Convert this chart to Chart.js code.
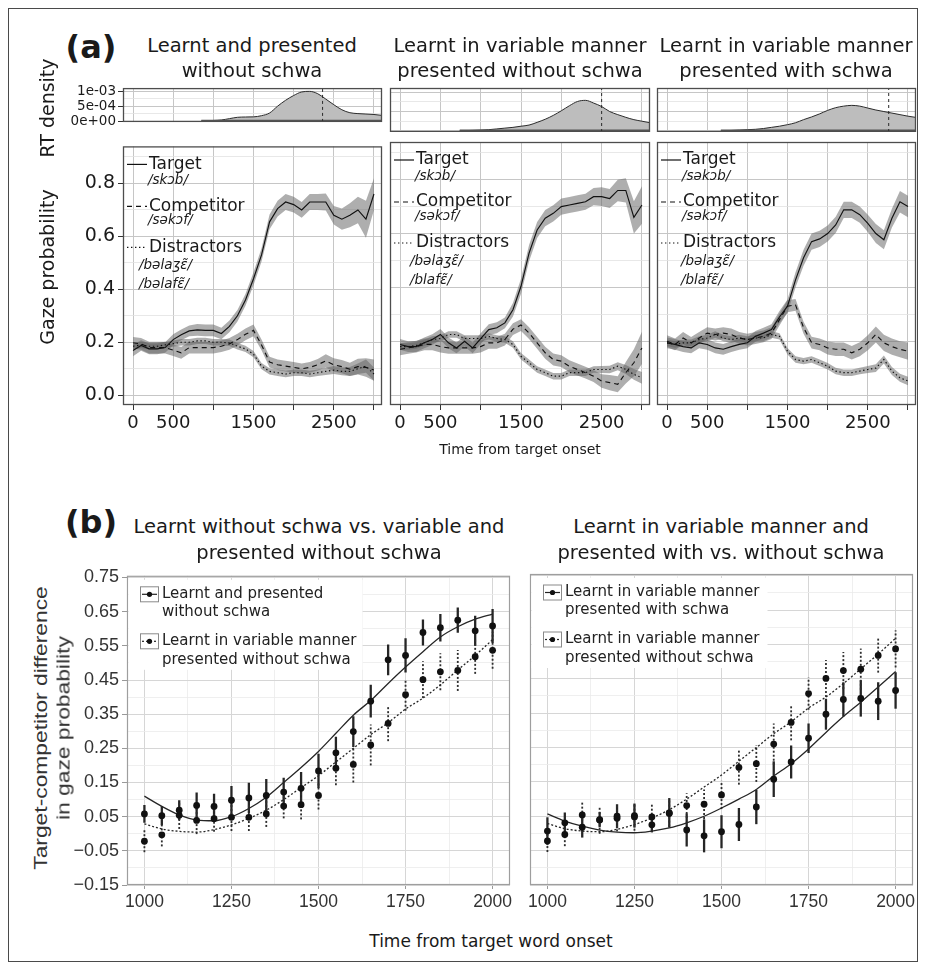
<!DOCTYPE html>
<html><head><meta charset="utf-8">
<script src="https://cdn.jsdelivr.net/npm/chart.js@4.4.1/dist/chart.umd.min.js"></script>
<style>
html,body{margin:0;padding:0;background:#fff;}
#page{position:relative;width:926px;height:971px;overflow:hidden;background:#fff;}
#frame{position:absolute;left:8px;top:8px;width:910px;height:954px;border:1.5px solid #4a4a4a;box-sizing:border-box;}
canvas{position:absolute;}
.t{position:absolute;white-space:nowrap;color:#1a1a1a;font-family:"DejaVu Sans",sans-serif;line-height:1;transform:translate(-50%,-50%);}
.rot{transform:translate(-50%,-50%) rotate(-90deg);}
</style></head><body><div id="page"><div id="frame"></div></div>
<script>
// ---------------- DATA: panel (a) gaze probabilities ----------------
const aTime = [0,100,200,300,400,500,600,700,800,900,1000,1100,1200,1300,1400,1500,1600,1700,1800,1900,2000,2100,2200,2300,2400,2500,2600,2700,2800,2900,3000];

const target1 = [0.169,0.188,0.175,0.175,0.18,0.21,0.228,0.243,0.247,0.245,0.245,0.233,0.26,0.30,0.36,0.44,0.53,0.655,0.705,0.73,0.72,0.70,0.73,0.73,0.73,0.68,0.665,0.68,0.70,0.665,0.76];
const targetSe1 = [0.022,0.02,0.02,0.02,0.02,0.02,0.02,0.02,0.022,0.022,0.022,0.022,0.022,0.022,0.022,0.025,0.025,0.028,0.03,0.03,0.03,0.03,0.03,0.03,0.032,0.035,0.04,0.045,0.05,0.07,0.06];
const comp1 = [0.198,0.194,0.18,0.18,0.18,0.17,0.16,0.18,0.18,0.18,0.18,0.185,0.194,0.21,0.23,0.245,0.19,0.125,0.115,0.11,0.105,0.10,0.105,0.115,0.13,0.115,0.108,0.098,0.108,0.105,0.095];
const compSe1 = [0.022,0.022,0.022,0.022,0.022,0.022,0.022,0.022,0.022,0.022,0.022,0.022,0.022,0.022,0.022,0.022,0.02,0.02,0.02,0.02,0.02,0.02,0.02,0.022,0.025,0.025,0.025,0.025,0.03,0.035,0.04];
const dist1 = [0.185,0.19,0.185,0.185,0.19,0.195,0.2,0.2,0.205,0.205,0.2,0.2,0.198,0.185,0.175,0.155,0.11,0.09,0.085,0.08,0.085,0.085,0.08,0.085,0.09,0.095,0.09,0.09,0.1,0.11,0.08];
const distSe1 = [0.012,0.012,0.012,0.012,0.012,0.012,0.012,0.012,0.012,0.012,0.012,0.012,0.012,0.012,0.012,0.012,0.012,0.012,0.012,0.012,0.012,0.012,0.012,0.012,0.014,0.015,0.015,0.017,0.02,0.025,0.025];

const target2 = [0.188,0.18,0.18,0.194,0.206,0.225,0.194,0.175,0.2,0.175,0.21,0.243,0.25,0.268,0.317,0.404,0.527,0.613,0.657,0.675,0.70,0.706,0.712,0.718,0.737,0.737,0.73,0.76,0.76,0.66,0.706];
const targetSe2 = [0.02,0.02,0.02,0.02,0.02,0.02,0.02,0.02,0.02,0.02,0.02,0.02,0.02,0.02,0.025,0.028,0.03,0.03,0.03,0.03,0.03,0.03,0.03,0.03,0.032,0.035,0.035,0.04,0.045,0.06,0.07];
const comp2 = [0.17,0.175,0.18,0.188,0.188,0.18,0.175,0.175,0.175,0.175,0.18,0.194,0.194,0.206,0.245,0.26,0.23,0.194,0.157,0.132,0.126,0.107,0.095,0.083,0.07,0.052,0.046,0.04,0.083,0.12,0.175];
const compSe2 = [0.022,0.022,0.022,0.022,0.022,0.022,0.022,0.022,0.022,0.022,0.022,0.022,0.022,0.022,0.022,0.022,0.022,0.022,0.022,0.022,0.022,0.022,0.022,0.022,0.022,0.025,0.028,0.03,0.04,0.05,0.06];
const dist2 = [0.18,0.18,0.184,0.194,0.206,0.21,0.225,0.225,0.21,0.21,0.21,0.218,0.21,0.206,0.188,0.144,0.12,0.095,0.083,0.07,0.07,0.083,0.083,0.083,0.095,0.095,0.095,0.107,0.095,0.077,0.064];
const distSe2 = [0.012,0.012,0.012,0.012,0.012,0.012,0.012,0.012,0.012,0.012,0.012,0.012,0.012,0.012,0.012,0.012,0.012,0.012,0.012,0.012,0.012,0.012,0.012,0.012,0.012,0.013,0.014,0.015,0.017,0.02,0.022];

const target3 = [0.194,0.188,0.18,0.175,0.194,0.188,0.175,0.17,0.18,0.188,0.194,0.218,0.23,0.243,0.29,0.33,0.428,0.51,0.57,0.58,0.60,0.632,0.688,0.688,0.67,0.638,0.60,0.577,0.657,0.718,0.70];
const targetSe3 = [0.02,0.02,0.02,0.02,0.02,0.02,0.02,0.02,0.02,0.02,0.02,0.02,0.02,0.02,0.022,0.025,0.028,0.03,0.03,0.03,0.03,0.03,0.03,0.03,0.03,0.032,0.035,0.035,0.035,0.04,0.04];
const comp3 = [0.2,0.188,0.212,0.194,0.212,0.23,0.225,0.23,0.225,0.212,0.206,0.212,0.218,0.23,0.28,0.33,0.335,0.25,0.195,0.188,0.175,0.17,0.17,0.157,0.17,0.194,0.225,0.194,0.18,0.17,0.163];
const compSe3 = [0.022,0.022,0.022,0.022,0.022,0.022,0.022,0.022,0.022,0.022,0.022,0.022,0.022,0.022,0.022,0.022,0.022,0.022,0.022,0.022,0.024,0.025,0.025,0.025,0.026,0.028,0.03,0.03,0.03,0.03,0.032];
const dist3 = [0.194,0.188,0.194,0.194,0.206,0.212,0.225,0.212,0.206,0.212,0.206,0.212,0.212,0.225,0.218,0.163,0.132,0.126,0.132,0.12,0.107,0.089,0.083,0.083,0.089,0.095,0.10,0.132,0.089,0.064,0.052];
const distSe3 = [0.012,0.012,0.012,0.012,0.012,0.012,0.012,0.012,0.012,0.012,0.012,0.012,0.012,0.012,0.012,0.012,0.012,0.012,0.012,0.012,0.012,0.012,0.012,0.012,0.012,0.013,0.014,0.015,0.015,0.015,0.016];

// RT densities (x in ms, y in density units) and median RT
const densX1 = [850,900,1000,1100,1200,1300,1400,1500,1600,1700,1800,1900,2000,2100,2200,2300,2400,2500,2600,2700,2800,2900,3000,3100];
const densY1 = [0,0.000005,0.000018,0.000035,0.00008,0.000125,0.000135,0.00014,0.00018,0.00027,0.0005,0.0007,0.00086,0.00098,0.001,0.00092,0.00074,0.00055,0.00038,0.00028,0.00025,0.000235,0.00022,0.00019];
const densX2 = [740,800,900,1000,1100,1200,1300,1400,1500,1600,1700,1800,1900,2000,2100,2200,2300,2400,2500,2600,2700,2800,2900,3000,3125];
const densY2 = [0,0.000005,0.000012,0.00002,0.00003,0.00005,0.00007,0.00009,0.00012,0.00015,0.00022,0.0003,0.0004,0.00052,0.00065,0.00076,0.00079,0.00072,0.00063,0.0005,0.00042,0.00035,0.00029,0.00025,0.0002];
const densX3 = [670,700,800,900,1000,1100,1200,1300,1400,1500,1600,1700,1800,1900,2000,2100,2200,2300,2400,2500,2600,2700,2800,2900,3000,3125];
const densY3 = [0,0.000003,0.00001,0.00002,0.00003,0.00004,0.00006,0.00009,0.00012,0.00016,0.00021,0.00029,0.00036,0.00044,0.00053,0.0006,0.00064,0.00066,0.00064,0.00059,0.00054,0.0005,0.00046,0.00042,0.00038,0.00034];
const rtMedian = [2360, 2500, 2760];

// Tick values / labels (a)
const aXTicks = [0,500,1000,1500,2000,2500,3000];
const aXLabels = ['0','500','','1500','','2500',''];
const gazeYTicks = [0,0.1,0.2,0.3,0.4,0.5,0.6,0.7,0.8,0.9];
const gazeYLabels = ['0.0','','0.2','','0.4','','0.6','','0.8',''];
const densYTicks = [0,0.00025,0.0005,0.00075,0.001];
const densYLabels = ['0e+00','','5e-04','','1e-03'];

// ---------------- DATA: panel (b) target-competitor differences ----------------
const bTime = [1000,1050,1100,1150,1200,1250,1300,1350,1400,1450,1500,1550,1600,1650,1700,1750,1800,1850,1900,1950,2000];
const noSchwa = [0.058,0.053,0.069,0.083,0.08,0.098,0.105,0.112,0.122,0.133,0.184,0.237,0.299,0.388,0.509,0.522,0.589,0.603,0.625,0.594,0.608];
const noSchwaErr = [0.026,0.028,0.029,0.038,0.037,0.042,0.044,0.048,0.042,0.048,0.05,0.047,0.045,0.048,0.045,0.05,0.038,0.04,0.037,0.044,0.05];
const varNoSchwa = [-0.022,-0.003,0.054,0.039,0.044,0.048,0.048,0.058,0.081,0.085,0.112,0.192,0.203,0.26,0.323,0.407,0.451,0.474,0.478,0.518,0.537];
const varNoSchwaErr = [0.032,0.034,0.04,0.04,0.038,0.04,0.04,0.038,0.036,0.043,0.041,0.05,0.053,0.06,0.052,0.047,0.054,0.054,0.06,0.05,0.054];
const varSchwa = [0.007,0.031,0.018,0.04,0.05,0.052,0.025,0.06,0.01,-0.007,0.005,0.026,0.077,0.158,0.208,0.277,0.347,0.39,0.393,0.385,0.416];
const varSchwaErr = [0.04,0.03,0.03,0.022,0.035,0.035,0.022,0.043,0.048,0.048,0.048,0.048,0.05,0.052,0.048,0.043,0.045,0.05,0.053,0.055,0.053];
const fitNoSchwa = [0.11,0.08,0.055,0.04,0.038,0.05,0.074,0.107,0.15,0.194,0.241,0.294,0.347,0.39,0.44,0.488,0.533,0.576,0.606,0.628,0.643];
const fitVarNoSchwa = [0.029,0.014,0.007,0.005,0.012,0.026,0.045,0.069,0.1,0.135,0.17,0.21,0.25,0.29,0.325,0.365,0.397,0.436,0.479,0.522,0.568];
const fitVarSchwa = [0.057,0.036,0.021,0.01,0.004,0.002,0.007,0.016,0.031,0.05,0.074,0.1,0.128,0.167,0.203,0.246,0.294,0.34,0.382,0.426,0.471];

const bXTicks = [1000,1125,1250,1375,1500,1625,1750,1875,2000];
const bXLabels = ['1000','','1250','','1500','','1750','','2000'];
const bYTicks = [-0.15,-0.1,-0.05,0,0.05,0.1,0.15,0.2,0.25,0.3,0.35,0.4,0.45,0.5,0.55,0.6,0.65,0.7,0.75];
const bYLabels = ['\u22120.15','','\u22120.05','','0.05','','0.15','','0.25','','0.35','','0.45','','0.55','','0.65','','0.75'];

// ---------------- helpers ----------------
const page = document.getElementById('page');
function addText(str, x, y, size, ex) {
  ex = ex || {};
  const d = document.createElement('div');
  d.className = 't' + (ex.rot ? ' rot' : '');
  d.textContent = str;
  d.style.left = x + 'px'; d.style.top = y + 'px';
  d.style.fontSize = size + 'px';
  if (ex.bold) d.style.fontWeight = 'bold';
  if (ex.family) d.style.fontFamily = ex.family;
  if (ex.color) d.style.color = ex.color;
  if (ex.stretch) d.style.transform = 'translate(-50%,-50%) rotate(-90deg) scaleX(' + ex.stretch + ')';
  page.appendChild(d);
}
function addCanvas(area, lay) {
  const c = document.createElement('canvas');
  const w = area.r - area.l + lay.yw + lay.pl + lay.pr;
  const h = area.b - area.t + lay.xh + lay.pt + lay.pb;
  c.width = w; c.height = h;
  c.style.left = (area.l - lay.yw - lay.pl) + 'px';
  c.style.top = (area.t - lay.pt) + 'px';
  c.style.width = w + 'px'; c.style.height = h + 'px';
  page.appendChild(c);
  return c;
}
function axis(cfg) {
  return {
    type: 'linear', min: cfg.min, max: cfg.max,
    afterBuildTicks: s => { s.ticks = cfg.values.map((v, i) => ({ value: v, major: cfg.labels[i] !== '' || cfg.allMajor })); },
    afterFit: s => { if (cfg.axis === 'x') s.height = cfg.size; else s.width = cfg.size; },
    ticks: { display: cfg.showLabels, autoSkip: false, maxRotation: 0, minRotation: 0, padding: cfg.pad || 0,
      color: cfg.labelColor || '#1a1a1a', font: cfg.font, callback: (v, i) => cfg.labels[i] },
    grid: { drawTicks: cfg.tickLen > 0, tickLength: cfg.tickLen || 0,
      color: c => (c.tick && c.tick.major) ? cfg.majorColor : cfg.minorColor,
      lineWidth: c => (c.tick && c.tick.major) ? cfg.majorWidth : cfg.minorWidth,
      tickColor: c => (c.tick && c.tick.major) ? cfg.tickColor : 'rgba(0,0,0,0)', tickWidth: 1 },
    border: { display: false }
  };
}
const panelBorder = { id: 'panelBorder', afterDatasetsDraw(chart, args, o) {
  if (!o || !o.color) return;
  const a = chart.chartArea, ctx = chart.ctx;
  ctx.save(); ctx.strokeStyle = o.color; ctx.lineWidth = o.width;
  ctx.strokeRect(a.left + 0.5, a.top + 0.5, a.right - a.left - 1, a.bottom - a.top - 1); ctx.restore();
}};
const errorBars = { id: 'errorBars', beforeDatasetsDraw(chart) {
  const ctx = chart.ctx, xs = chart.scales.x, ys = chart.scales.y, a = chart.chartArea;
  ctx.save();
  ctx.beginPath(); ctx.rect(a.left, a.top, a.right - a.left, a.bottom - a.top); ctx.clip();
  chart.data.datasets.forEach(ds => {
    if (!ds.errors) return;
    ctx.strokeStyle = ds.errColor; ctx.lineWidth = ds.errWidth; ctx.setLineDash(ds.errDash || []);
    ds.data.forEach((p, i) => {
      const x = xs.getPixelForValue(p.x);
      ctx.beginPath();
      ctx.moveTo(x, ys.getPixelForValue(p.y - ds.errors[i]));
      ctx.lineTo(x, ys.getPixelForValue(p.y + ds.errors[i]));
      ctx.stroke();
    });
  });
  ctx.restore();
}};
Chart.register(panelBorder, errorBars);

const pts = (xs, ys) => xs.map((x, i) => ({ x: x, y: ys[i] }));
const band = (xs, ys, se, sign) => xs.map((x, i) => ({ x: x, y: ys[i] + sign * se[i] }));
const baseOpts = { responsive: false, animation: false, events: [] };

// ---------------- (a) gaze panels ----------------
const GAZE_X = { min: -125, max: 3100 };
const gazePanels = [
  { area: { l: 123, t: 142, r: 382, b: 405 }, dens: { t: 88, b: 132 }, T: target1, Ts: targetSe1, C: comp1, Cs: compSe1, D: dist1, Ds: distSe1, tw: '/sk\u0254b/', dw: ['/b\u0259la\u0292\u025B\u0303/', '/b\u0259laf\u025B\u0303/'], doff: 16, dx: densX1, dy: densY1, med: rtMedian[0], first: true },
  { area: { l: 390, t: 142, r: 650, b: 405 }, dens: { t: 88, b: 132 }, T: target2, Ts: targetSe2, C: comp2, Cs: compSe2, D: dist2, Ds: distSe2, tw: '/sk\u0254b/', dw: ['/b\u0259la\u0292\u025B\u0303/', '/blaf\u025B\u0303/'], doff: 20, dx: densX2, dy: densY2, med: rtMedian[1], first: false },
  { area: { l: 657, t: 142, r: 916, b: 405 }, dens: { t: 88, b: 132 }, T: target3, Ts: targetSe3, C: comp3, Cs: compSe3, D: dist3, Ds: distSe3, tw: '/s\u0259k\u0254b/', dw: ['/b\u0259la\u0292\u025B\u0303/', '/blaf\u025B\u0303/'], doff: 24, dx: densX3, dy: densY3, med: rtMedian[2], first: false }
];
const RIBBON = 'rgba(100,100,100,0.52)';
const LINE = '#111';
const DASH_C = [5, 4], DASH_D = [1.4, 2.6];

gazePanels.forEach(p => {
  // density panel
  const dArea = { l: p.area.l, r: p.area.r, t: p.dens.t, b: p.dens.b };
  const dLay = { yw: p.first ? 62 : 0, xh: 0, pl: 10, pr: 10, pt: 10, pb: 0 };
  const dmin = -0.00003, dmax = 0.00111;
  new Chart(addCanvas(dArea, dLay), {
    type: 'line',
    data: { datasets: [
      { data: [{ x: p.med, y: dmin }, { x: p.med, y: dmax }], borderColor: '#2a2a2a', borderWidth: 1, borderDash: [3, 3], pointRadius: 0, fill: false, order: 0 },
      { data: [{ x: p.dx[0], y: 0 }, { x: p.dx[p.dx.length - 1], y: 0 }], borderColor: '#555', borderWidth: 2.5, pointRadius: 0, fill: false, order: 1 },
      { data: pts(p.dx, p.dy), borderColor: '#2b2b2b', borderWidth: 1, backgroundColor: '#bdbdbd', fill: 'origin', pointRadius: 0, cubicInterpolationMode: 'monotone', order: 2 }
    ] },
    options: Object.assign({}, baseOpts, {
      layout: { padding: { left: dLay.pl, right: dLay.pr, top: dLay.pt, bottom: dLay.pb } },
      plugins: { legend: { display: false }, tooltip: { enabled: false }, panelBorder: { color: '#4d4d4d', width: 1.3 } },
      scales: {
        x: axis({ axis: 'x', min: GAZE_X.min, max: GAZE_X.max, values: aXTicks, labels: aXTicks.map(() => ''), allMajor: true, size: 0, showLabels: false, tickLen: 0, majorColor: '#c6c6c6', minorColor: '#c6c6c6', majorWidth: 1, minorWidth: 1, tickColor: '#333' }),
        y: axis({ axis: 'y', min: dmin, max: dmax, values: densYTicks, labels: densYLabels, size: dLay.yw, showLabels: p.first, tickLen: p.first ? 5 : 0, pad: 2, font: { family: 'DejaVu Sans', size: 13.5 }, majorColor: '#c6c6c6', minorColor: '#e2e2e2', majorWidth: 1, minorWidth: 0.8, tickColor: '#333' })
      }
    })
  });

  // gaze panel
  const gLay = { yw: p.first ? 50 : 0, xh: 30, pl: 10, pr: 12, pt: 10, pb: 0 };
  const legend = { id: 'gazeLegend', afterDatasetsDraw(chart) {
    const ctx = chart.ctx, a = chart.chartArea, L = a.left, T = a.top;
    ctx.save();
    ctx.fillStyle = '#1a1a1a'; ctx.strokeStyle = LINE; ctx.lineWidth = 1.2;
    ctx.textBaseline = 'middle'; ctx.textAlign = 'left';
    const sample = (y, dash) => { ctx.setLineDash(dash); ctx.beginPath(); ctx.moveTo(L + 4, y); ctx.lineTo(L + 24, y); ctx.stroke(); };
    sample(T + 18, []); sample(T + 60, DASH_C); sample(T + 101, DASH_D);
    ctx.setLineDash([]);
    ctx.font = '17px "DejaVu Sans"';
    ctx.fillText('Target', L + 26, T + 18);
    ctx.fillText('Competitor', L + 26, T + 60);
    ctx.fillText('Distractors', L + 26, T + 101);
    ctx.font = 'italic 13.5px "DejaVu Sans"';
    ctx.fillText(p.tw, L + 25, T + 34);
    ctx.fillText('/s\u0259k\u0254f/', L + 25, T + 74);
    ctx.fillText(p.dw[0], L + p.doff, T + 119);
    ctx.fillText(p.dw[1], L + p.doff, T + 138);
    ctx.restore();
  }};
  const series = [[p.T, p.Ts, []], [p.C, p.Cs, DASH_C], [p.D, p.Ds, DASH_D]];
  const datasets = [];
  series.forEach(s => {
    datasets.push({ data: pts(aTime, s[0]), borderColor: LINE, borderWidth: 1.15, borderDash: s[2], pointRadius: 0, fill: false, tension: 0, order: 0 });
  });
  series.forEach(s => {
    datasets.push({ data: band(aTime, s[0], s[1], 1), borderWidth: 0, borderColor: 'rgba(0,0,0,0)', pointRadius: 0, fill: false, order: 1 });
    datasets.push({ data: band(aTime, s[0], s[1], -1), borderWidth: 0, borderColor: 'rgba(0,0,0,0)', backgroundColor: RIBBON, pointRadius: 0, fill: '-1', order: 1 });
  });
  new Chart(addCanvas(p.area, gLay), {
    type: 'line',
    data: { datasets: datasets },
    options: Object.assign({}, baseOpts, {
      layout: { padding: { left: gLay.pl, right: gLay.pr, top: gLay.pt, bottom: gLay.pb } },
      plugins: { legend: { display: false }, tooltip: { enabled: false }, panelBorder: { color: '#4d4d4d', width: 1.3 } },
      scales: {
        x: axis({ axis: 'x', min: GAZE_X.min, max: GAZE_X.max, values: aXTicks, labels: aXLabels, allMajor: true, size: gLay.xh, showLabels: true, tickLen: 5, pad: 3, font: { family: 'DejaVu Sans', size: 18 }, majorColor: '#c6c6c6', minorColor: '#c6c6c6', majorWidth: 1, minorWidth: 1, tickColor: '#333' }),
        y: axis({ axis: 'y', min: -0.037, max: 0.94, values: gazeYTicks, labels: gazeYLabels, size: gLay.yw, showLabels: p.first, tickLen: p.first ? 5 : 0, pad: 3, font: { family: 'DejaVu Sans', size: 19 }, majorColor: '#c6c6c6', minorColor: '#e2e2e2', majorWidth: 1, minorWidth: 0.8, tickColor: '#333' })
      }
    }),
    plugins: [legend]
  });
});

// ---------------- (b) difference panels ----------------
const bPanels = [
  { area: { l: 127, t: 574, r: 510, b: 885 }, first: true,
    A: varNoSchwa, Ae: varNoSchwaErr, S: noSchwa, Se: noSchwaErr, fitS: fitNoSchwa, fitA: fitVarNoSchwa,
    leg: [['Learnt and presented', 'without schwa'], ['Learnt in variable manner', 'presented without schwa']], lw: 234 },
  { area: { l: 530, t: 574, r: 913, b: 885 }, first: false,
    A: varNoSchwa, Ae: varNoSchwaErr, S: varSchwa, Se: varSchwaErr, fitS: fitVarSchwa, fitA: fitVarNoSchwa,
    leg: [['Learnt in variable manner', 'presented with schwa'], ['Learnt in variable manner', 'presented without schwa']], lw: 236 }
];
bPanels.forEach(p => {
  const lay = { yw: p.first ? 60 : 0, xh: 28, pl: p.first ? 0 : 30, pr: 12, pt: 12, pb: 0 };
  const legend = { id: 'bLegend', afterDatasetsDraw(chart) {
    const ctx = chart.ctx, a = chart.chartArea, L = a.left, T = a.top;
    ctx.save();
    ctx.fillStyle = '#fff'; ctx.fillRect(L + 1.5, T + 4, p.lw, 90);
    const key = (cy, dash) => {
      ctx.fillStyle = '#fff'; ctx.strokeStyle = '#8a8a8a'; ctx.lineWidth = 1; ctx.setLineDash([]);
      ctx.strokeRect(L + 13.5, cy - 7.5, 18, 15);
      ctx.strokeStyle = '#222'; ctx.lineWidth = 1.2; ctx.setLineDash(dash);
      ctx.beginPath(); ctx.moveTo(L + 15, cy); ctx.lineTo(L + 30, cy); ctx.stroke();
      ctx.setLineDash([]); ctx.fillStyle = '#111';
      ctx.beginPath(); ctx.arc(L + 22.5, cy, 2.6, 0, Math.PI * 2); ctx.fill();
    };
    key(T + 18.5, []); key(T + 65.5, [2, 2]);
    ctx.fillStyle = '#222'; ctx.font = '15px "DejaVu Sans"'; ctx.textBaseline = 'middle'; ctx.textAlign = 'left';
    ctx.fillText(p.leg[0][0], L + 35, T + 18); ctx.fillText(p.leg[0][1], L + 35, T + 36);
    ctx.fillText(p.leg[1][0], L + 35, T + 65); ctx.fillText(p.leg[1][1], L + 35, T + 84);
    ctx.restore();
  }};
  new Chart(addCanvas(p.area, lay), {
    type: 'line',
    data: { datasets: [
      { data: pts(bTime, p.S), showLine: false, pointRadius: 3.4, pointBackgroundColor: '#111', pointBorderWidth: 0, errors: p.Se, errColor: '#262626', errWidth: 2.3, errDash: [], order: 0 },
      { data: pts(bTime, p.A), showLine: false, pointRadius: 3.4, pointBackgroundColor: '#111', pointBorderWidth: 0, errors: p.Ae, errColor: '#2e2e2e', errWidth: 1.8, errDash: [2, 2], order: 0 },
      { data: pts(bTime, p.fitS), borderColor: '#262626', borderWidth: 1.3, pointRadius: 0, fill: false, cubicInterpolationMode: 'monotone', order: 1 },
      { data: pts(bTime, p.fitA), borderColor: '#262626', borderWidth: 1.3, borderDash: [2, 2], pointRadius: 0, fill: false, cubicInterpolationMode: 'monotone', order: 1 }
    ] },
    options: Object.assign({}, baseOpts, {
      layout: { padding: { left: lay.pl, right: lay.pr, top: lay.pt, bottom: lay.pb } },
      plugins: { legend: { display: false }, tooltip: { enabled: false }, panelBorder: { color: '#9e9e9e', width: 1.2 } },
      scales: {
        x: axis({ axis: 'x', min: 950, max: 2050, values: bXTicks, labels: bXLabels, size: lay.xh, showLabels: true, tickLen: 4, pad: 3, labelColor: '#333', font: { family: 'Liberation Sans', size: 17.5 }, majorColor: '#d6d6d6', minorColor: '#ebebeb', majorWidth: 1, minorWidth: 0.8, tickColor: '#999' }),
        y: axis({ axis: 'y', min: -0.15, max: 0.755, values: bYTicks, labels: bYLabels, size: lay.yw, showLabels: p.first, tickLen: p.first ? 5 : 0, pad: 3, labelColor: '#333', font: { family: 'Liberation Sans', size: 18 }, majorColor: '#d6d6d6', minorColor: '#ebebeb', majorWidth: 1, minorWidth: 0.8, tickColor: '#999' })
      }
    }),
    plugins: [legend]
  });
});

// ---------------- text ----------------
addText('(a)', 91, 47, 32, { bold: true });
addText('Learnt and presented', 252, 46, 19.5);
addText('without schwa', 252, 71, 19.5);
addText('Learnt in variable manner', 520, 46, 19.5);
addText('presented without schwa', 520, 71, 19.5);
addText('Learnt in variable manner', 786, 46, 19.5);
addText('presented with schwa', 786, 71, 19.5);
addText('RT density', 47, 108, 19, { rot: true });
addText('Gaze probability', 47, 267, 19, { rot: true });
addText('Time from target onset', 520, 449, 14);
addText('(b)', 91, 522, 32, { bold: true });
addText('Learnt without schwa vs. variable and', 319, 527, 19.5);
addText('presented without schwa', 319, 553, 19.5);
addText('Learnt in variable manner and', 721, 527, 19.5);
addText('presented with vs. without schwa', 721, 553, 19.5);
addText('Target-competitor difference', 40, 728, 19, { rot: true, family: 'Liberation Sans', color: '#333', stretch: 1.2 });
addText('in gaze probability', 63, 728, 19, { rot: true, family: 'Liberation Sans', color: '#333', stretch: 1.2 });
addText('Time from target word onset', 491, 941, 17);
</script></body></html>
